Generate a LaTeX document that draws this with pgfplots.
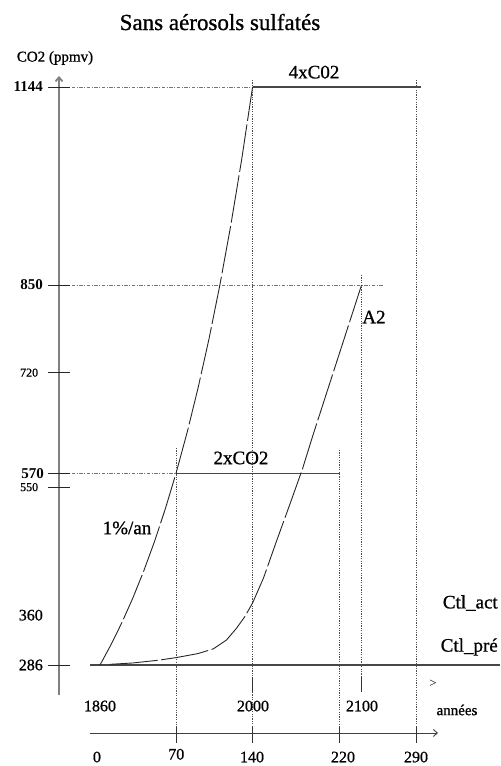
\documentclass[border=0pt]{standalone}
\usepackage{fontspec}
\setmainfont{Liberation Serif}
\newfontfamily\thick{Liberation Serif}[FakeBold=0.9]
\usepackage{pgfplots}
\pgfplotsset{compat=1.18}
\usetikzlibrary{arrows.meta}

\begin{document}
\begin{tikzpicture}[
  refdash/.style={black!55, line width=0.8bp, dash pattern=on 3.5bp off 1.5bp on 1bp off 1.5bp},
  vdot/.style={black!70, line width=0.8bp, dash pattern=on 1.2bp off 1.2bp},
  solidl/.style={black!72, line width=1.3bp},
  curve/.style={black!85, line width=0.9bp, dash pattern=on 48bp off 3.5bp},
  lab/.style={inner sep=0pt, font=\fontsize{19bp}{22bp}\thick},
  num/.style={inner sep=0pt, font=\fontsize{15bp}{18bp}\selectfont\bfseries},
  snum/.style={inner sep=0pt, font=\fontsize{12bp}{14bp}\thick},
  ynum/.style={inner sep=0pt, font=\fontsize{16bp}{18bp}\thick},
]
\begin{axis}[
  scale only axis, width=500bp, height=766bp,
  xmin=-91.77, xmax=367.07, ymin=136.1, ymax=1273.1,
  hide axis, clip=false,
]
% bounding box
\addplot[draw=none] coordinates {(-91.77,136.1) (367.07,1273.1)};

% y axis (gray, arrow at top)
\addplot[black!50, line width=1.8bp, -{Straight Barb[length=4bp,width=7bp]}] coordinates {(-37.6,241.5) (-37.6,1160.3)};
% y ticks
\addplot[black!85, line width=0.9bp] coordinates {(-47.7,1144) (-27.5,1144)};
\addplot[black!85, line width=0.9bp] coordinates {(-47.7,850) (-27.5,850)};
\addplot[black!85, line width=0.9bp] coordinates {(-47.7,720) (-27.5,720)};
\addplot[black!85, line width=0.9bp] coordinates {(-47.7,570) (-27.5,570)};
\addplot[black!85, line width=0.9bp] coordinates {(-47.7,550) (-27.5,550)};
\addplot[black!85, line width=0.9bp] coordinates {(-47.7,286) (-27.5,286)};

% horizontal reference lines
\addplot[refdash] coordinates {(-25.7,1144) (140,1144)};
\addplot[solidl] coordinates {(140,1144) (294.6,1144)};
\addplot[refdash] coordinates {(-25.7,850) (259.7,850)};
\addplot[refdash] coordinates {(-25.7,570) (70,570)};
\addplot[solidl] coordinates {(70,570) (220,570)};
% Ctl_pre line
\addplot[solidl] coordinates {(-9.2,286) (367,286)};

% vertical dotted lines
\addplot[vdot] coordinates {(70,608) (70,194)};
\addplot[vdot] coordinates {(140,1154.3) (140,194)};
\addplot[vdot] coordinates {(220,605) (220,194)};
\addplot[vdot] coordinates {(240,864.9) (240,268.2)};
\addplot[vdot] coordinates {(290,1154.3) (290,194)};
% year ticks
\addplot[black!80, line width=0.9bp] coordinates {(140,268.2) (140,245.9)};
\addplot[black!80, line width=0.9bp] coordinates {(240,268.2) (240,245.9)};

% bottom axis
\addplot[black!75, line width=0.9bp, -{Straight Barb[length=4bp,width=7bp]}] coordinates {(-9.2,185.1) (310.2,185.1)};
\addplot[black!80, line width=0.9bp] coordinates {(70,194) (70,170.2)};
\addplot[black!80, line width=0.9bp] coordinates {(140,194) (140,170.2)};
\addplot[black!80, line width=0.9bp] coordinates {(220,194) (220,170.2)};
\addplot[black!80, line width=0.9bp] coordinates {(290,194) (290,170.2)};

% 1%/an curve
\addplot[curve] coordinates {
(0,286) (10,315.8) (20,348.6) (30,384.9) (40,425.0) (50,469.2) (60,518.1)
(70,572) (80,631.5) (90,697.3) (100,769.9) (110,850.0) (120,938.5)
(130,1036.2) (140,1144)};

% A2 curve
\addplot[curve] coordinates {
(9,287) (30,289) (53,293) (70,297) (90,303) (104,310) (116,323) (125,340)
(133,358) (140,378) (150,415) (162,470) (175,528) (186,578) (195,625)
(206,680) (214,720) (228,790) (240,850)};

% labels
\node[inner sep=0pt, font=\fontsize{23bp}{26bp}\thick] at (axis cs:110.1,1240.4) {Sans aérosols sulfatés};
\node[inner sep=0pt, font=\fontsize{15bp}{18bp}\thick] at (axis cs:-41.3,1187) {CO2 (ppmv)};
\node[lab] at (axis cs:196.4,1166) {4xC02};
\node[lab] at (axis cs:251.4,802.5) {A2};
\node[lab] at (axis cs:129.4,593.3) {2xCO2};
\node[lab] at (axis cs:24.8,489.4) {1\%/an};
\node[lab, anchor=east] at (axis cs:365.2,378) {Ctl\_act};
\node[lab, anchor=east] at (axis cs:365.2,312.7) {Ctl\_pré};

\node[num, anchor=east] at (axis cs:-52.3,1144) {1144};
\node[num, anchor=east] at (axis cs:-52.3,850) {850};
\node[snum, anchor=east] at (axis cs:-56.6,720) {720};
\node[num, anchor=east] at (axis cs:-51.4,570) {570};
\node[snum, anchor=east] at (axis cs:-56.6,550) {550};
\node[ynum, anchor=east] at (axis cs:-52.3,360) {360};
\node[ynum, anchor=east] at (axis cs:-52.3,286) {286};

\node[ynum] at (axis cs:0,225.1) {1860};
\node[ynum] at (axis cs:140.4,225.1) {2000};
\node[ynum] at (axis cs:240.4,225.1) {2100};
\node[inner sep=0pt, font=\fontsize{15bp}{18bp}\thick] at (axis cs:327.6,219.2) {années};
\node[inner sep=0pt, font=\fontsize{13bp}{15bp}\selectfont] at (axis cs:305.6,257.8) {>};

\node[ynum] at (axis cs:-2.8,149.4) {0};
\node[ynum] at (axis cs:70,153.5) {70};
\node[ynum] at (axis cs:139.5,149.4) {140};
\node[ynum] at (axis cs:223,149.4) {220};
\node[ynum] at (axis cs:290,149.4) {290};
\end{axis}
\end{tikzpicture}
\end{document}
